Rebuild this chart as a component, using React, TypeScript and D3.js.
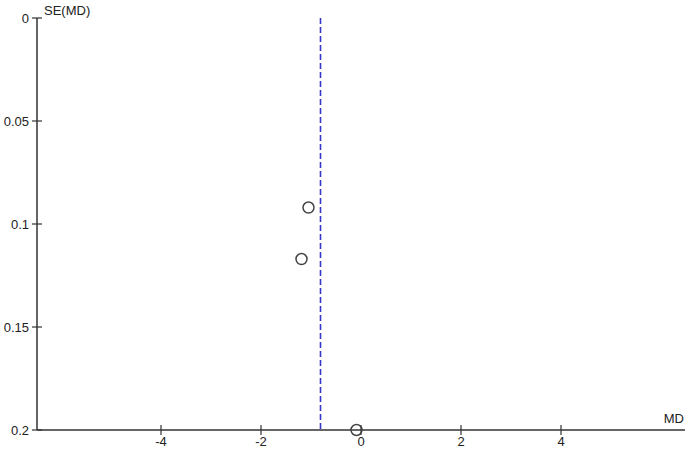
import React from "react";
import * as d3 from "d3";

const studyMD = [-1.05, -1.19, -0.09];
const studySE = [0.092, 0.117, 0.2];
const pooledMD = -0.81;
const xTicks = [-4, -2, 0, 2, 4];
const yTicks = [0, 0.05, 0.1, 0.15, 0.2];
const xDomain = [-6.48, 6.52];
const xLabel = "MD";
const yLabel = "SE(MD)";

const W = 688;
const H = 450;

export default function App() {
  const x = d3.scaleLinear().domain(xDomain).range([37, 687]);
  const y = d3.scaleLinear().domain([0, 0.2]).range([18, 430]);
  const font = "'Liberation Sans', Arial, sans-serif";
  const axisColor = "#333";
  const fmt = (v: number) => (v === 0 ? "0" : String(v));
  const x0 = x(xDomain[0]);
  return (
    <svg
      width={W}
      height={H}
      style={{ position: "absolute", left: 0, top: 0, background: "#fff" }}
      fontFamily={font}
    >
      <rect width={W} height={H} fill="#fff" />
      {/* y axis */}
      <line x1={x0} x2={x0} y1={y(0)} y2={y(0.2)} stroke={axisColor} strokeWidth={1.5} />
      {yTicks.map((t) => (
        <g key={"y" + t}>
          <line x1={x0 - 5} x2={x0 + 5} y1={y(t)} y2={y(t)} stroke={axisColor} strokeWidth={1.2} />
          <text x={x0 - 8} y={y(t)} dy="0.35em" textAnchor="end" fontSize={13} fill="#222">
            {fmt(t)}
          </text>
        </g>
      ))}
      {/* x axis */}
      <line x1={x0} x2={x(xDomain[1]) - 2} y1={y(0.2)} y2={y(0.2)} stroke={axisColor} strokeWidth={1.5} />
      {xTicks.map((t) => (
        <g key={"x" + t}>
          <line x1={x(t)} x2={x(t)} y1={y(0.2) - 5} y2={y(0.2) + 5} stroke={axisColor} strokeWidth={1.2} />
          <text x={x(t)} y={y(0.2) + 16} textAnchor="middle" fontSize={13} fill="#222">
            {fmt(t)}
          </text>
        </g>
      ))}
      <text x={44} y={15} fontSize={13} fill="#222">
        {yLabel}
      </text>
      <text x={684} y={423} textAnchor="end" fontSize={13} fill="#222">
        {xLabel}
      </text>
      {/* pooled estimate */}
      <line
        x1={x(pooledMD)}
        x2={x(pooledMD)}
        y1={y(0)}
        y2={y(0.2)}
        stroke="#3636c8"
        strokeWidth={1.6}
        strokeDasharray="6,3"
      />
      {studyMD.map((m, i) => (
        <circle key={i} cx={x(m)} cy={y(studySE[i])} r={5.5} fill="none" stroke="#444" strokeWidth={1.5} />
      ))}
    </svg>
  );
}
